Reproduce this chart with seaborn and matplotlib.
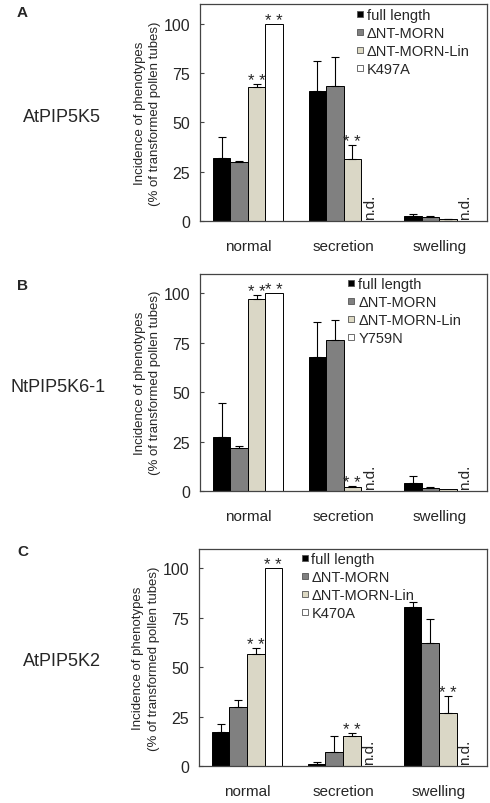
import pandas as pd
import matplotlib
matplotlib.use('Agg')
import matplotlib.pyplot as plt
from matplotlib.lines import Line2D
import seaborn as sns

# categories and colours shared by all three panels
categories = ['normal', 'secretion', 'swelling']
colors = ['#000000', '#808080', '#DDD9C3', '#FFFFFF']

# panel A - AtPIP5K5
constructs_A = ['full length', 'ΔNT-MORN', 'ΔNT-MORN-Lin', 'K497A']
full_A = [31.9, 65.9, 2.4]
morn_A = [29.8, 68.4, 2.2]
lin_A = [67.9, 31.4, 0.8]
mut_A = [100, 0, 0]
full_err_A = [10.7, 15.2, 1.0]
morn_err_A = [0.5, 14.9, 0.2]
lin_err_A = [1.4, 7.2, 0.4]
mut_err_A = [0, 0, 0]
sig_A = [('normal', 'ΔNT-MORN-Lin'), ('normal', 'K497A'), ('secretion', 'ΔNT-MORN-Lin')]

# panel B - NtPIP5K6-1
constructs_B = ['full length', 'ΔNT-MORN', 'ΔNT-MORN-Lin', 'Y759N']
full_B = [27.3, 67.9, 3.9]
morn_B = [21.6, 76.5, 1.4]
lin_B = [97.1, 1.9, 0.8]
mut_B = [100, 0, 0]
full_err_B = [17.1, 17.4, 3.7]
morn_err_B = [1.3, 9.8, 0.5]
lin_err_B = [2.2, 0.7, 0]
mut_err_B = [0, 0, 0]
sig_B = [('normal', 'ΔNT-MORN-Lin'), ('normal', 'Y759N'), ('secretion', 'ΔNT-MORN-Lin')]

# panel C - AtPIP5K2
constructs_C = ['full length', 'ΔNT-MORN', 'ΔNT-MORN-Lin', 'K470A']
full_C = [17.5, 1.0, 80.5]
morn_C = [30.1, 7.2, 62.3]
lin_C = [56.6, 15.5, 27.1]
mut_C = [100, 0, 0]
full_err_C = [3.9, 1.4, 2.6]
morn_err_C = [3.5, 8.3, 12.1]
lin_err_C = [3.3, 1.5, 8.4]
mut_err_C = [0, 0, 0]
sig_C = [('normal', 'ΔNT-MORN-Lin'), ('normal', 'K470A'), ('secretion', 'ΔNT-MORN-Lin'),
         ('swelling', 'ΔNT-MORN-Lin')]

# not determined: 4th construct in secretion and swelling
nd_cats = ['secretion', 'swelling']

yticks = [0, 25, 50, 75, 100]

sns.set_theme(style='white')
plt.rcParams['font.family'] = ['Liberation Sans', 'DejaVu Sans']

fig = plt.figure(figsize=(4.9, 8.04), dpi=100)


def make_df(constructs, vals, errs):
    rows = []
    for c, v, e in zip(constructs, vals, errs):
        for cat, val, er in zip(categories, v, e):
            rows.append({'category': cat, 'construct': c, 'value': val, 'err': er})
    return pd.DataFrame(rows)


def draw_panel(rect, letter, gene, gene_xy, letter_xy, leg_x, constructs, vals, errs, sig):
    ax = fig.add_axes(rect)
    df = make_df(constructs, vals, errs)
    sns.barplot(data=df, x='category', y='value', hue='construct', order=categories,
                hue_order=constructs, palette=colors, edgecolor='black', linewidth=0.7,
                width=0.73, gap=0, errorbar=None, legend=False, ax=ax)

    # bar centres from the drawn patches
    centers = {}
    for cname, cont in zip(constructs, ax.containers):
        for bar in cont:
            cx = bar.get_x() + bar.get_width() / 2
            centers[(categories[int(round(cx))], cname)] = cx

    for _, r in df.iterrows():
        x = centers[(r['category'], r['construct'])]
        if r['err'] > 0:
            ax.errorbar(x, r['value'], yerr=[[0], [r['err']]], fmt='none', ecolor='black',
                        elinewidth=0.8, capsize=3, capthick=0.8)
    for cat, cname in sig:
        row = df[(df['category'] == cat) & (df['construct'] == cname)].iloc[0]
        x = centers[(cat, cname)]
        ax.text(x, row['value'] + row['err'] - 0.5, '* *', ha='center', va='baseline',
                fontsize=12)
    for cat in nd_cats:
        x = centers[(cat, constructs[3])]
        ax.text(x, 1.0, 'n.d.', rotation=90, ha='center', va='bottom', fontsize=11)

    ax.set_ylim(0, 110)
    ax.set_xlim(-0.5, 2.5)
    ax.set_yticks(yticks)
    ax.tick_params(axis='y', direction='in', length=3, width=0.8, pad=7, labelsize=11.5,
                   left=True, color='#444444')
    ax.tick_params(axis='x', length=0, pad=13, labelsize=11)
    ax.set_xlabel('')
    ax.set_ylabel('Incidence of phenotypes\n(% of transformed pollen tubes)', fontsize=9.5,
                  linespacing=1.35)
    ax.yaxis.set_label_coords(-0.137, 0.5)
    for s in ax.spines.values():
        s.set_color('#444444')
        s.set_linewidth(0.9)

    handles = [Line2D([], [], linestyle='none', marker='s', markersize=4.8,
                      markerfacecolor=c, markeredgecolor='#555555', markeredgewidth=0.6)
               for c in colors]
    ax.legend(handles, constructs, loc='upper left', bbox_to_anchor=(leg_x, 0.983),
              frameon=False, fontsize=10.5, borderpad=0, borderaxespad=0,
              handlelength=0.45, handletextpad=0.25, labelspacing=0.28)

    fig.text(gene_xy[0], gene_xy[1], gene, fontsize=13, ha='left', va='center')
    fig.text(letter_xy[0], letter_xy[1], letter, fontsize=11, fontweight='bold',
             ha='left', va='center')
    return ax


H = 804.0
W = 490.0
draw_panel([200 / W, (H - 222) / H, 287 / W, 217 / H], 'A', 'AtPIP5K5',
           (23 / W, (H - 118) / H), (16.5 / W, (H - 13) / H), 0.545,
           constructs_A, [full_A, morn_A, lin_A, mut_A],
           [full_err_A, morn_err_A, lin_err_A, mut_err_A], sig_A)
draw_panel([200 / W, (H - 492) / H, 287 / W, 217.5 / H], 'B', 'NtPIP5K6-1',
           (10 / W, (H - 388) / H), (17 / W, (H - 286.5) / H), 0.516,
           constructs_B, [full_B, morn_B, lin_B, mut_B],
           [full_err_B, morn_err_B, lin_err_B, mut_err_B], sig_B)
draw_panel([199 / W, (H - 767.3) / H, 288 / W, 217.8 / H], 'C', 'AtPIP5K2',
           (23 / W, (H - 661.7) / H), (17 / W, (H - 552) / H), 0.355,
           constructs_C, [full_C, morn_C, lin_C, mut_C],
           [full_err_C, morn_err_C, lin_err_C, mut_err_C], sig_C)

fig.savefig('out.png', dpi=100)
